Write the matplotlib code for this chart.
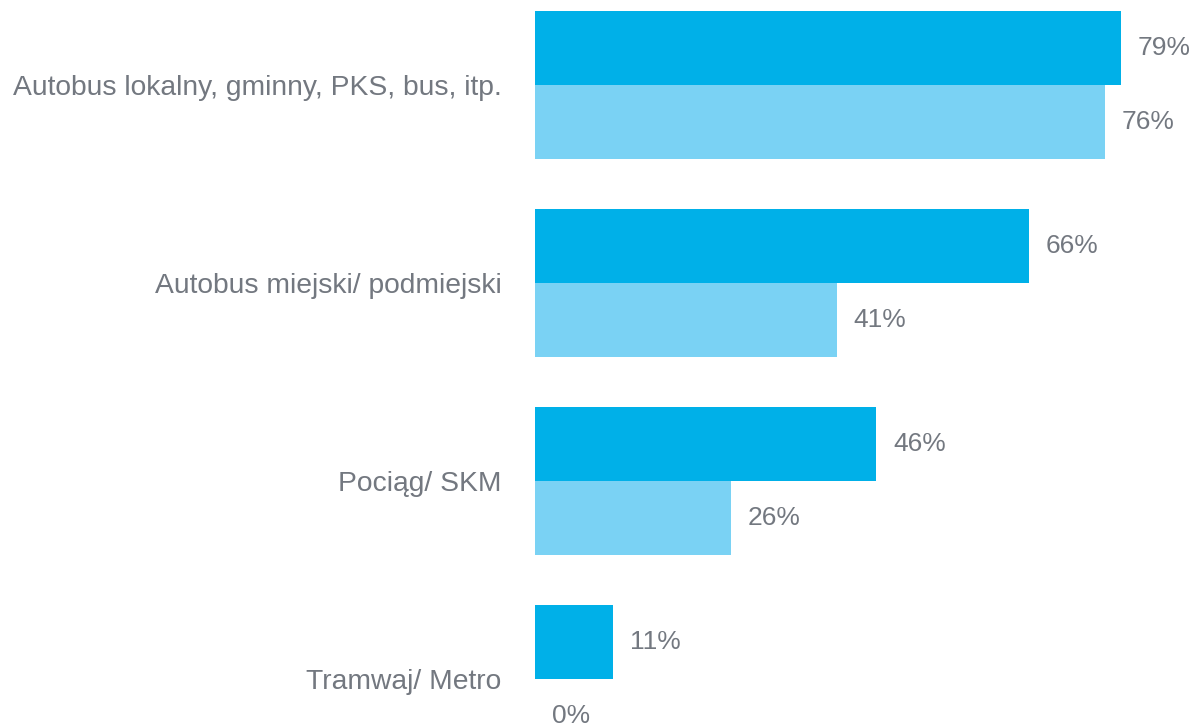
import numpy as np
import matplotlib.pyplot as plt

plt.rcParams['font.family'] = ['Liberation Sans', 'DejaVu Sans']

# Dane (długości słupków, etykiety jak na wykresie)
kategorie = ["Autobus lokalny, gminny, PKS, bus, itp.",
             "Autobus miejski/ podmiejski",
             "Pociąg/ SKM",
             "Tramwaj/ Metro"]
seria_1 = [78.7, 66.3, 45.8, 10.5]
seria_2 = [76.5, 40.5, 26.3, 0]
etykiety_1 = ["79%", "66%", "46%", "11%"]
etykiety_2 = ["76%", "41%", "26%", "0%"]

kolor_1 = "#00B0E8"
kolor_2 = "#7AD2F4"
kolor_tekstu = "#737880"

fig = plt.figure(figsize=(11.94, 7.26), dpi=100)
ax = fig.add_axes([535 / 1194, 0, 659 / 1194, 1])

y = np.arange(len(kategorie))
h = 0.374
ax.barh(y - h / 2, seria_1, height=h, color=kolor_1)
ax.barh(y + h / 2, seria_2, height=h, color=kolor_2)

for yi, v, t in zip(y - h / 2, seria_1, etykiety_1):
    ax.annotate(t, (v, yi), xytext=(12, 0), textcoords="offset points",
                va="center", ha="left", fontsize=19, color=kolor_tekstu)
for yi, v, t in zip(y + h / 2, seria_2, etykiety_2):
    ax.annotate(t, (v, yi), xytext=(12, 0), textcoords="offset points",
                va="center", ha="left", fontsize=19, color=kolor_tekstu)

ax.set_xlim(0, 659 / 7.45)
ax.set_ylim((726 - 85) / 198, -85 / 198)

ax.set_yticks(y)
ax.set_yticklabels(kategorie, fontsize=20.3, color=kolor_tekstu)
ax.tick_params(axis="y", length=0, pad=24)
ax.set_xticks([])
for s in ax.spines.values():
    s.set_visible(False)

fig.savefig("out.png", dpi=100)
